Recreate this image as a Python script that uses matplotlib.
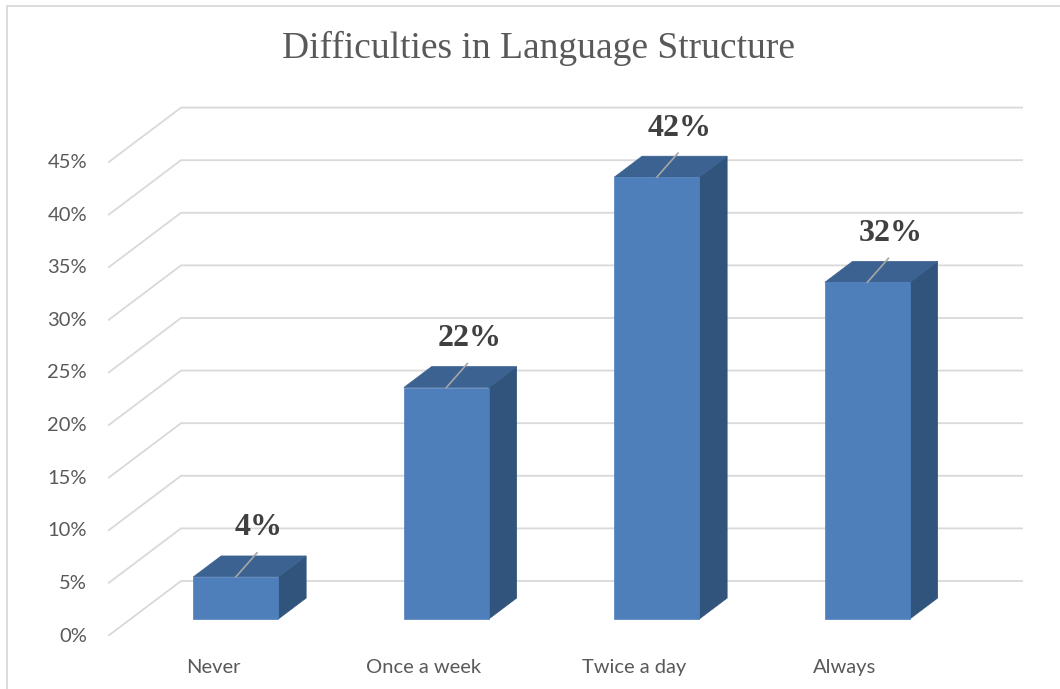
import numpy as np
import matplotlib.pyplot as plt
from matplotlib.patches import Polygon, Rectangle

# data
categories = ['Never', 'Once a week', 'Twice a day', 'Always']
values = [4, 22, 42, 32]
tick_values = [0, 5, 10, 15, 20, 25, 30, 35, 40, 45]

# fake 3d projection: depth z in [0, 1] shifts points right and up
kx = 0.347   # category units per unit depth
ky = 5.23    # percent units per unit depth
z0, z1 = 0.31, 0.69
half_w = 0.202

def proj(x, y, z):
    return (x + z * kx, y + z * ky)

fig = plt.figure(figsize=(10.6, 6.89), dpi=100)
ax = fig.add_axes([108 / 1060, 53 / 689, 915 / 1060, 51 * 10.52 / 689])
ax.set_xlim(0, 4 + kx)
ax.set_ylim(0, 51)
ax.axis('off')

# outer chart frame (only top/left visible in the crop)
fig.add_artist(Rectangle((7 / 1060, -0.1), 1.2, 1.1 - 6 / 689, transform=fig.transFigure,
                         fill=False, edgecolor='#D9D9D9', linewidth=1.3))

grid_col = '#D9D9D9'
for v in tick_values:
    p_front = proj(0, v, 0)
    p_back = proj(0, v, 1)
    p_end = proj(len(categories), v, 1)
    ax.plot([p_front[0], p_back[0], p_end[0]], [p_front[1], p_back[1], p_end[1]],
            color=grid_col, linewidth=1.3, zorder=1, solid_capstyle='butt')
    ax.text(-0.1, v, f'{v}%', ha='right', va='center', fontsize=14.5,
            color='#595959', family='Lato')

front_col = '#4E7FBB'
top_col = '#3B6290'
side_col = '#31547C'

for i, (cat, v) in enumerate(zip(categories, values)):
    xc = i + 0.5
    xl, xr = xc - half_w, xc + half_w
    front = [proj(xl, 0, z0), proj(xr, 0, z0), proj(xr, v, z0), proj(xl, v, z0)]
    top = [proj(xl, v, z0), proj(xr, v, z0), proj(xr, v, z1), proj(xl, v, z1)]
    side = [proj(xr, 0, z0), proj(xr, 0, z1), proj(xr, v, z1), proj(xr, v, z0)]
    ax.add_patch(Polygon(side, closed=True, facecolor=side_col, edgecolor=side_col, lw=0.5, zorder=2))
    ax.add_patch(Polygon(top, closed=True, facecolor=top_col, edgecolor=top_col, lw=0.5, zorder=2))
    ax.add_patch(Polygon(front, closed=True, facecolor=front_col, edgecolor=front_col, lw=0.5, zorder=3))

    # leader line and data label
    sx, sy = proj(xc, v, z0)
    ex, ey = sx + 0.1, sy + 2.28
    ax.plot([sx, ex], [sy, ey], color='#A6A6A6', linewidth=1.2, zorder=4)
    ax.text(ex + 0.01, ey + 1.0, f'{v}%', ha='center', va='bottom', fontsize=23,
            fontweight='bold', family='Liberation Serif', color='#404040', zorder=5)

    ax.text(xc, -3.0, cat, ha='center', va='center', fontsize=14.5,
            color='#595959', family='Lato')

fig.text(538 / 1060, 1 - 48 / 689, 'Difficulties in Language Structure', ha='center', va='center',
         fontsize=27, family='Liberation Serif', color='#595959')

fig.savefig('out.png', dpi=100)
